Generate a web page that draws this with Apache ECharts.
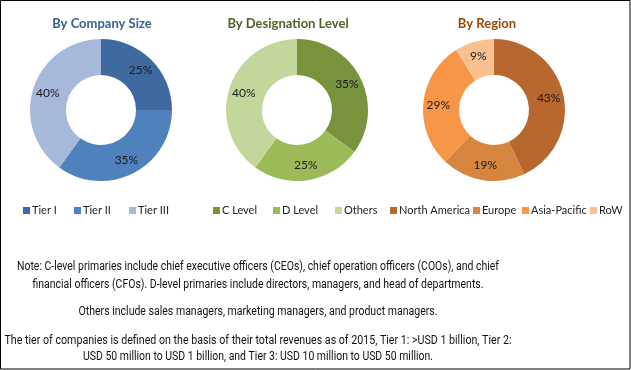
<!DOCTYPE html>
<html><head><meta charset="utf-8">
<script src="https://cdn.jsdelivr.net/npm/echarts@6/dist/echarts.min.js"></script>
<style>html,body{margin:0;padding:0;background:#fff}#c{width:631px;height:370px}</style>
</head><body><div id="c"></div>
<script>
const sizeCats = ['Tier I', 'Tier II', 'Tier III'];
const sizeVals = [25, 35, 40];
const desigCats = ['C Level', 'D Level', 'Others'];
const desigVals = [35, 25, 40];
const regionCats = ['North America', 'Europe', 'Asia-Pacific', 'RoW'];
const regionVals = [43, 19, 29, 9];
const titles = ['By Company Size', 'By Designation Level', 'By Region'];
const notes = [
  'Note: C-level primaries include chief executive officers (CEOs), chief operation officers (COOs), and chief',
  'financial officers (CFOs). D-level primaries include directors, managers, and head of departments.',
  'Others include sales managers, marketing managers, and product managers.',
  'The tier of companies is defined on the basis of their total revenues as of 2015, Tier 1: >USD 1 billion, Tier 2:',
  'USD 50 million to USD 1 billion, and Tier 3: USD 10 million to USD 50 million.'
];

// layout (positions / sizes / styles)
const sizeColors = ['#3E6AA0', '#4F81BD', '#A7B9DA'];
const desigColors = ['#77933C', '#9BBB59', '#C3D69B'];
const regionColors = ['#B8682E', '#D6853E', '#F79646', '#FAC090'];
const sizeLegendX = [23, 74, 129];
const desigLegendX = [213, 273, 335];
const regionLegendX = [390, 473, 522, 590];
const noteY = [267, 285, 312, 341, 357];
const noteW = [482, 451, 359, 507, 350];
const lblFont = 'Lato, "Open Sans", sans-serif';
const noteFont = '12px Roboto';

function ring(cx, cats, vals, colors) {
  return {
    type: 'pie', center: [cx, 110], radius: [35, 71], startAngle: 90, clockwise: true,
    silent: true, animation: false,
    label: { show: true, position: 'inside', formatter: '{c}%', color: '#1a1a1a', fontSize: 12, fontFamily: lblFont },
    labelLine: { show: false },
    itemStyle: { borderWidth: 0 },
    data: cats.map((n, i) => ({ name: n, value: vals[i], itemStyle: { color: colors[i] } }))
  };
}
function legends(names, xs) {
  return names.map((n, i) => ({
    left: xs[i], top: 205, padding: 0, itemWidth: 7, itemHeight: 7, icon: 'rect',
    selectedMode: false, data: [n],
    textStyle: { fontSize: 11, color: '#222', fontFamily: lblFont, padding: [0, 0, 0, -3] }
  }));
}
const ctx = document.createElement('canvas').getContext('2d');
ctx.font = noteFont;
const chart = echarts.init(document.getElementById('c'));
const titleColors = ['#376092', '#4F6228', '#984807'];
const titleX = [97, 283, 482];
chart.setOption({
  backgroundColor: '#fff',
  title: titles.map((t, i) => ({
    text: t, left: titleX[i], top: 12, textAlign: 'center',
    textStyle: { fontSize: 13, fontWeight: 'bold', color: titleColors[i], fontFamily: lblFont }
  })),
  legend: [].concat(legends(sizeCats, sizeLegendX), legends(desigCats, desigLegendX), legends(regionCats, regionLegendX)),
  series: [ring(101, sizeCats, sizeVals, sizeColors), ring(297, desigCats, desigVals, desigColors), ring(494, regionCats, regionVals, regionColors)],
  graphic: [
    { type: 'rect', shape: { x: 0.5, y: 0.5, width: 629.5, height: 368.5 }, style: { fill: 'none', stroke: '#000', lineWidth: 1 }, silent: true }
  ].concat(notes.map((t, i) => {
    const w = ctx.measureText(t).width || noteW[i];
    return {
      type: 'text', x: 258, y: noteY[i], scaleX: noteW[i] / w,
      style: { text: t, align: 'center', verticalAlign: 'middle', fontSize: 12, fill: '#111', fontFamily: 'Roboto, sans-serif' },
      silent: true
    };
  }))
});
</script></body></html>
